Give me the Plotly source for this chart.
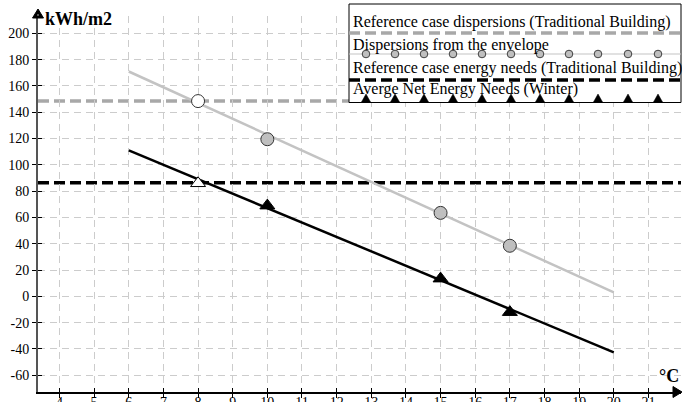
import plotly.graph_objects as go

# ---------------- data ----------------
x_ticks = list(range(4, 22))
y_ticks = list(range(-60, 201, 20))

trend_x = [6, 20]
disp_trend_y = [171, 3]
needs_trend_y = [111, -42.5]

disp_x = [8, 10, 15, 17]
disp_y = [148.5, 119.5, 63.5, 38.5]
disp_fill = ["white", "#bfbfbf", "#bfbfbf", "#bfbfbf"]

needs_x = [8, 10, 15, 17]
needs_y = [86, 69, 13.5, -12]
needs_fill = ["white", "black", "black", "black"]

ref_disp = 148.5
ref_needs = 86.5

legend_labels = [
    "Reference case dispersions (Traditional Building)",
    "Dispersions from the envelope",
    "Reference case energy needs (Traditional Building)",
    "Averge Net Energy Needs (Winter)",
]

# ---------------- layout geometry ----------------
W, H = 682, 402
ML, MR, MT, MB = 38, 1, 16, 10
PW, PH = W - ML - MR, H - MT - MB


def px(x):
    return (x - ML) / PW


def py(y):
    return (H - MB - y) / PH


FONT = "Liberation Serif"

fig = go.Figure()

fig.add_trace(go.Scatter(x=trend_x, y=disp_trend_y, mode="lines",
                         line=dict(color="#c3c3c3", width=2.5), showlegend=False))
fig.add_trace(go.Scatter(x=trend_x, y=needs_trend_y, mode="lines",
                         line=dict(color="black", width=2.5), showlegend=False))
fig.add_trace(go.Scatter(x=disp_x, y=disp_y, mode="markers",
                         marker=dict(symbol="circle", size=13, color=disp_fill,
                                     line=dict(color="#333333", width=1)),
                         showlegend=False))
fig.add_trace(go.Scatter(x=needs_x, y=needs_y, mode="markers",
                         marker=dict(symbol="triangle-up", size=13, color=needs_fill,
                                     line=dict(color="black", width=1)),
                         showlegend=False))

shapes = []
# reference horizontal lines
shapes.append(dict(type="line", xref="paper", yref="y", x0=0, x1=1, y0=ref_disp, y1=ref_disp,
                   line=dict(color="#a8a8a8", width=3.5, dash="11px,5px"), layer="below"))
shapes.append(dict(type="line", xref="paper", yref="y", x0=0, x1=1, y0=ref_needs, y1=ref_needs,
                   line=dict(color="black", width=3.5, dash="11px,5px"), layer="below"))

# axis arrows
shapes.append(dict(type="path", xref="paper", yref="paper",
                   path=f"M {px(32.5)},{py(18)} L {px(38)},{py(9)} L {px(43.5)},{py(18)} Z",
                   fillcolor="black", line=dict(color="black", width=1), layer="above"))
shapes.append(dict(type="line", xref="paper", yref="paper", x0=px(38), x1=px(38), y0=1, y1=py(14),
                   line=dict(color="#555555", width=2), layer="above"))
shapes.append(dict(type="path", xref="paper", yref="paper",
                   path=f"M {px(673)},{py(386.5)} L {px(682)},{py(392)} L {px(673)},{py(397.5)} Z",
                   fillcolor="black", line=dict(color="black", width=1), layer="above"))

# custom legend box
BX0, BX1, BY0, BY1 = 349, 681, 4, 102.5
shapes.append(dict(type="rect", xref="paper", yref="paper",
                   x0=px(BX0), x1=px(BX1), y0=py(BY1), y1=py(BY0),
                   fillcolor="white", line=dict(color="black", width=1), layer="above"))
# sample 1: grey dashed
shapes.append(dict(type="line", xref="paper", yref="paper", x0=px(BX0), x1=px(682), y0=py(33), y1=py(33),
                   line=dict(color="#a8a8a8", width=3.5, dash="11px,5px"), layer="above"))
# sample 2: thin grey line with circles
shapes.append(dict(type="line", xref="paper", yref="paper", x0=px(BX0), x1=px(BX1), y0=py(54), y1=py(54),
                   line=dict(color="#c3c3c3", width=1.2), layer="above"))
sample_pos = [366, 395, 424, 453, 482, 511, 540, 569, 598, 628, 658]
for cx in sample_pos:
    shapes.append(dict(type="circle", xref="paper", yref="paper",
                       x0=px(cx - 3.8), x1=px(cx + 3.8), y0=py(54 + 3.8), y1=py(54 - 3.8),
                       fillcolor="#bfbfbf", line=dict(color="#404040", width=1), layer="above"))
# sample 3: black dashed
shapes.append(dict(type="line", xref="paper", yref="paper", x0=px(BX0), x1=px(682), y0=py(80), y1=py(80),
                   line=dict(color="black", width=3.5, dash="11px,5px"), layer="above"))
# sample 4: triangles on bottom line
for cx in sample_pos:
    shapes.append(dict(type="path", xref="paper", yref="paper",
                       path=f"M {px(cx - 4.5)},{py(102)} L {px(cx)},{py(94)} L {px(cx + 4.5)},{py(102)} Z",
                       fillcolor="black", line=dict(color="black", width=0.5), layer="above"))

annotations = []
for lab, cy in zip(legend_labels, [22.5, 44.5, 67.5, 88.5]):
    annotations.append(dict(text=lab, xref="paper", yref="paper", x=px(351), y=py(cy),
                            xanchor="left", yanchor="middle", showarrow=False,
                            font=dict(family=FONT, size=16, color="black")))
annotations.append(dict(text="<b>kWh/m2</b>", xref="paper", yref="paper", x=px(43), y=py(19),
                        xanchor="left", yanchor="middle", showarrow=False,
                        font=dict(family=FONT, size=18, color="black")))
annotations.append(dict(text="<b>°C</b>", xref="paper", yref="paper", x=px(681), y=py(376),
                        xanchor="right", yanchor="middle", showarrow=False,
                        font=dict(family=FONT, size=18, color="black")))

fig.update_layout(
    width=W, height=H,
    margin=dict(l=ML, r=MR, t=MT, b=MB, autoexpand=False),
    paper_bgcolor="white", plot_bgcolor="white",
    shapes=shapes, annotations=annotations,
    showlegend=False,
    font=dict(family=FONT, size=14, color="black"),
)
fig.update_xaxes(range=[3.38, 21.94], tickvals=x_ticks, ticktext=[str(v) for v in x_ticks],
                 showgrid=True, gridcolor="#cccccc", gridwidth=1, griddash="7px,5px",
                 showline=True, linecolor="black", linewidth=1.5,
                 ticks="outside", ticklen=4, tickcolor="black", tickwidth=1,
                 ticklabelstandoff=-8,
                 minor=dict(tickmode="array", tickvals=x_ticks, ticks="inside", ticklen=4,
                            tickcolor="black", tickwidth=1, showgrid=False),
                 tickfont=dict(family=FONT, size=14, color="black"),
                 zeroline=False, automargin=False, fixedrange=True)
fig.update_yaxes(range=[-72.7, 213.2], tickvals=y_ticks, ticktext=[str(v) for v in y_ticks],
                 showgrid=True, gridcolor="#cccccc", gridwidth=1, griddash="7px,5px",
                 showline=True, linecolor="#555555", linewidth=2,
                 ticks="outside", ticklen=4, tickcolor="black", tickwidth=1,
                 minor=dict(tickmode="array", tickvals=y_ticks, ticks="inside", ticklen=4,
                            tickcolor="black", tickwidth=1, showgrid=False),
                 tickfont=dict(family=FONT, size=14, color="black"),
                 zeroline=False, automargin=False, fixedrange=True)

fig.write_html("out.html", config={"displayModeBar": False},
               post_script="document.body.style.margin='0px';")
